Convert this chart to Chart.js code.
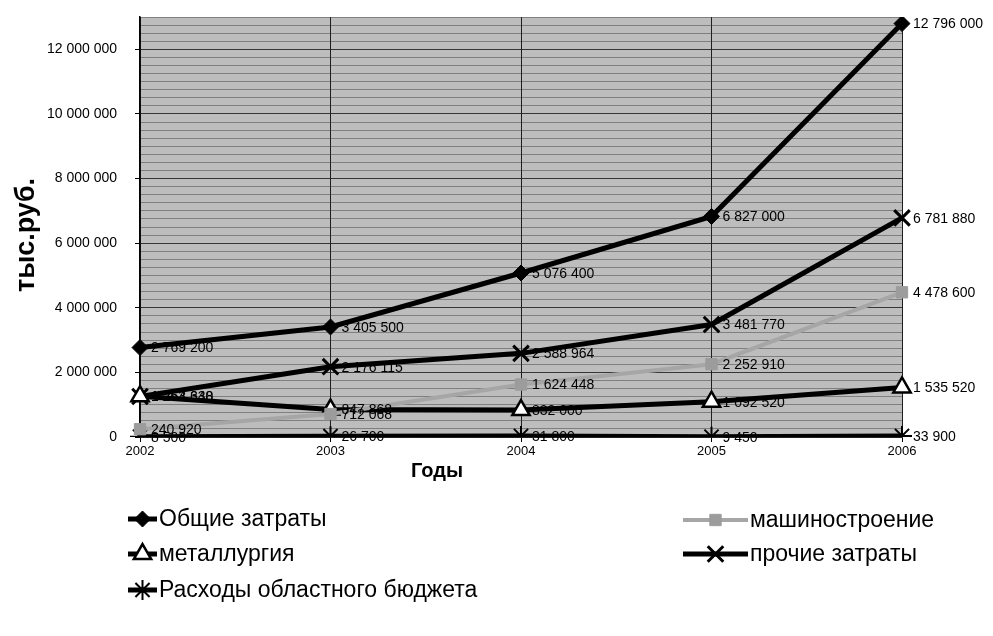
<!DOCTYPE html>
<html>
<head>
<meta charset="utf-8">
<script src="https://cdn.jsdelivr.net/npm/chart.js@4.4.1/dist/chart.umd.min.js"></script>
<style>
  html, body { margin: 0; padding: 0; background: #ffffff; }
  #wrap { width: 993px; height: 636px; position: relative; }
</style>
</head>
<body>
<div id="wrap"><canvas id="chart" width="993" height="636"></canvas></div>
<script>
// Categories and series (тыс. руб.)
const years = ['2002', '2003', '2004', '2005', '2006'];
const totalCosts      = [2769200, 3405500, 5076400, 6827000, 12796000];
const machineBuilding = [240920, 712068, 1624448, 2252910, 4478600];
const metallurgy      = [1263648, 847868, 832000, 1092520, 1535520];
const otherCosts      = [1254330, 2176115, 2588964, 3481770, 6781880];
const regionalBudget  = [8500, 26700, 31800, 9450, 33900];

const seriesNames = [
  'Общие затраты',
  'машиностроение',
  'металлургия',
  'прочие затраты',
  'Расходы областного бюджета'
];

// Value axis: labelled every 2 000 000, fine grid every 250 000
const yMax = 13000000;
const yLabelStep = 2000000;
const yGridStep = 250000;

const FONT = "'Liberation Sans', Arial, sans-serif";
const fmt = v => String(v).replace(/\B(?=(\d{3})+(?!\d))/g, ' ');

const datasets = [
  { label: seriesNames[0], data: totalCosts,
    borderColor: '#000', borderWidth: 5,
    pointStyle: 'rectRot', pointRadius: 8, pointBackgroundColor: '#000',
    pointBorderColor: '#000', pointBorderWidth: 1 },
  { label: seriesNames[1], data: machineBuilding,
    borderColor: '#a6a6a6', borderWidth: 4,
    pointStyle: 'rect', pointRadius: 8, pointBackgroundColor: '#9c9c9c',
    pointBorderColor: '#9c9c9c', pointBorderWidth: 1 },
  { label: seriesNames[2], data: metallurgy,
    borderColor: '#000', borderWidth: 5,
    pointStyle: 'triangle', pointRadius: 10, pointBackgroundColor: '#fff',
    pointBorderColor: '#000', pointBorderWidth: 2.5 },
  { label: seriesNames[3], data: otherCosts,
    borderColor: '#000', borderWidth: 5,
    pointStyle: 'crossRot', pointRadius: 11, pointBackgroundColor: '#000',
    pointBorderColor: '#000', pointBorderWidth: 3 },
  { label: seriesNames[4], data: regionalBudget,
    borderColor: '#000', borderWidth: 5,
    pointStyle: 'star', pointRadius: 10, pointBackgroundColor: '#000',
    pointBorderColor: '#000', pointBorderWidth: 2 }
];
datasets.forEach(d => { d.tension = 0; d.fill = false; d.pointHoverRadius = d.pointRadius; });

// Gray plot area behind the grid
const plotBackground = {
  id: 'plotBackground',
  beforeDraw(chart) {
    const { ctx, chartArea: a } = chart;
    ctx.save();
    ctx.fillStyle = '#bdbdbd';
    ctx.fillRect(a.left, a.top, a.right - a.left, a.bottom - a.top);
    ctx.restore();
  }
};

// Value labels to the right of every point
const pointLabels = {
  id: 'pointLabels',
  afterDatasetsDraw(chart) {
    const { ctx } = chart;
    ctx.save();
    ctx.font = '14px ' + FONT;
    ctx.fillStyle = '#000';
    ctx.textAlign = 'left';
    ctx.textBaseline = 'middle';
    chart.data.datasets.forEach((ds, i) => {
      const meta = chart.getDatasetMeta(i);
      meta.data.forEach((pt, j) => {
        ctx.fillText(fmt(ds.data[j]), pt.x + 11, pt.y + 1);
      });
    });
    ctx.restore();
  }
};

// Axis titles and the two-column legend
const titlesAndLegend = {
  id: 'titlesAndLegend',
  afterDraw(chart) {
    const { ctx } = chart;
    ctx.save();
    ctx.fillStyle = '#000';
    ctx.textBaseline = 'middle';

    ctx.font = 'bold 20px ' + FONT;
    ctx.textAlign = 'center';
    ctx.fillText('Годы', 437, 471);

    ctx.save();
    ctx.translate(27, 235);
    ctx.rotate(-Math.PI / 2);
    ctx.font = 'bold 27px ' + FONT;
    ctx.fillText('тыс.руб.', 0, 0);
    ctx.restore();

    const slots = [
      { x0: 128, x1: 157, y: 519 },
      { x0: 683, x1: 748, y: 520 },
      { x0: 128, x1: 157, y: 554 },
      { x0: 683, x1: 748, y: 554 },
      { x0: 128, x1: 157, y: 590 }
    ];
    ctx.font = '23px ' + FONT;
    ctx.textAlign = 'left';
    chart.data.datasets.forEach((ds, i) => {
      const s = slots[i];
      ctx.strokeStyle = ds.borderColor;
      ctx.lineWidth = ds.borderWidth;
      ctx.beginPath();
      ctx.moveTo(s.x0, s.y);
      ctx.lineTo(s.x1, s.y);
      ctx.stroke();
      const cx = (s.x0 + s.x1) / 2;
      ctx.fillStyle = ds.pointBackgroundColor;
      ctx.strokeStyle = ds.pointBorderColor;
      ctx.lineWidth = ds.pointBorderWidth;
      Chart.helpers.drawPoint(ctx, {
        pointStyle: ds.pointStyle, radius: ds.pointRadius, rotation: 0,
        borderWidth: ds.pointBorderWidth
      }, cx, s.y);
      ctx.fillStyle = '#000';
      ctx.fillText(ds.label, s.x1 + 2, s.y + 1);
    });
    ctx.restore();
  }
};

new Chart(document.getElementById('chart'), {
  type: 'line',
  data: { labels: years, datasets },
  plugins: [plotBackground, pointLabels, titlesAndLegend],
  options: {
    responsive: false,
    animation: false,
    devicePixelRatio: 1,
    layout: { padding: { top: 17, right: 91, bottom: 0, left: 0 } },
    plugins: { legend: { display: false }, tooltip: { enabled: false } },
    scales: {
      x: {
        type: 'category',
        offset: false,
        afterFit(scale) { scale.height = 199; },
        border: { display: true, color: '#000', width: 1.5 },
        grid: { color: '#1e1e1e', lineWidth: 1, tickLength: 5, tickColor: '#000' },
        ticks: { color: '#000', font: { family: FONT, size: 13 }, padding: 2, maxRotation: 0 }
      },
      y: {
        min: 0,
        max: yMax,
        afterFit(scale) {
          scale.width = 140;
          scale.paddingTop = 0;
          scale.paddingBottom = 0;
        },
        afterBuildTicks(scale) {
          scale.ticks = scale.ticks.filter(t => t.value % yGridStep === 0);
        },
        border: { display: true, color: '#000', width: 1.5 },
        grid: {
          lineWidth: 1,
          tickLength: 5,
          color: c => (c.tick && c.tick.value % yLabelStep === 0) ? 'rgba(30,30,30,0.85)' : 'rgba(50,50,50,0.45)',
          tickColor: c => (c.tick && c.tick.value % yLabelStep === 0) ? '#000' : 'rgba(0,0,0,0)'
        },
        ticks: {
          stepSize: yGridStep,
          maxTicksLimit: 200,
          autoSkip: false,
          padding: 18,
          color: '#000',
          font: { family: FONT, size: 14 },
          callback: v => (v % yLabelStep === 0 ? fmt(v) : '')
        }
      }
    }
  }
});
</script>
</body>
</html>
